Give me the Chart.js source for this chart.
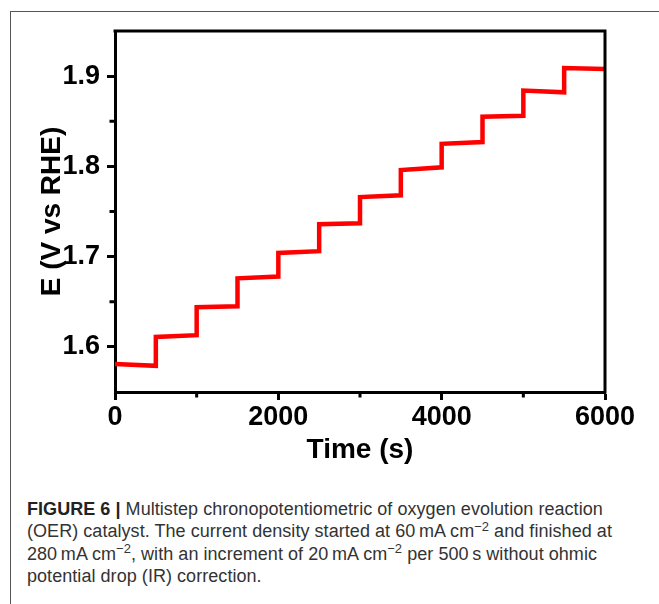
<!DOCTYPE html>
<html>
<head>
<meta charset="utf-8">
<script src="https://cdn.jsdelivr.net/npm/chart.js@4"></script>
<style>
html,body{margin:0;padding:0;background:#fff;width:659px;height:604px;overflow:hidden;}
#frame{position:absolute;left:10px;top:11px;width:660px;height:600px;border-top:1px solid #555;border-left:1px solid #555;box-sizing:border-box;}
#wrap{position:absolute;left:0;top:0;width:659px;height:480px;}
#cap{position:absolute;left:27px;top:497.5px;width:630px;font-family:"Liberation Sans",Arial,sans-serif;font-size:18px;line-height:22.5px;color:#333;white-space:nowrap;letter-spacing:0.05px;}
#cap b{color:#222;}
#cap sup{font-size:0.72em;vertical-align:baseline;position:relative;top:-0.5em;line-height:0;}
</style>
</head>
<body>
<div id="frame"></div>
<div id="wrap"><canvas id="c" width="659" height="480"></canvas></div>
<div id="cap"><b>FIGURE 6 |</b> Multistep chronopotentiometric of oxygen evolution reaction<br>(OER) catalyst. The current density started at 60&#8201;mA cm<sup>−2</sup> and finished at<br>280&#8201;mA cm<sup>−2</sup>, with an increment of 20&#8201;mA cm<sup>−2</sup> per 500&#8201;s without ohmic<br>potential drop (IR) correction.</div>
<script>
// ---- data ----
const stepStartTimes = [0, 500, 1000, 1500, 2000, 2500, 3000, 3500, 4000, 4500, 5000, 5500];
const stepEndTimes   = [500, 1000, 1500, 2000, 2500, 3000, 3500, 4000, 4500, 5000, 5500, 6000];
const stepStartE = [1.581, 1.611, 1.644, 1.676, 1.704, 1.736, 1.766, 1.796, 1.825, 1.855, 1.884, 1.909];
const stepEndE   = [1.579, 1.613, 1.645, 1.678, 1.706, 1.737, 1.768, 1.799, 1.827, 1.856, 1.882, 1.908];
const xMajorTicks = [0, 2000, 4000, 6000];
const xMinorTicks = [1000, 3000, 5000];
const yMajorTicks = [1.6, 1.7, 1.8, 1.9];
const yMinorTicks = [1.65, 1.75, 1.85];
const xTitle = 'Time (s)';
const yTitle = 'E (V vs RHE)';

const points = [];
for (let i = 0; i < stepStartTimes.length; i++) {
  points.push({x: stepStartTimes[i], y: stepStartE[i]});
  points.push({x: stepEndTimes[i], y: stepEndE[i]});
}

const FONT = '"Liberation Sans", Arial, Helvetica, sans-serif';

const framePlugin = {
  id: 'frameAndMinor',
  afterDraw(chart) {
    const {ctx, chartArea: a, scales} = chart;
    ctx.save();
    ctx.strokeStyle = '#000';
    ctx.lineWidth = 3;
    ctx.lineCap = 'square';
    ctx.beginPath();
    ctx.moveTo(a.left, a.top);
    ctx.lineTo(a.right, a.top);
    ctx.lineTo(a.right, a.bottom);
    ctx.stroke();
    ctx.lineCap = 'butt';
    ctx.beginPath();
    xMinorTicks.forEach(v => {
      const px = scales.x.getPixelForValue(v);
      ctx.moveTo(px, a.bottom);
      ctx.lineTo(px, a.bottom + 5.5);
    });
    yMinorTicks.forEach(v => {
      const py = scales.y.getPixelForValue(v);
      ctx.moveTo(a.left, py);
      ctx.lineTo(a.left - 5.5, py);
    });
    ctx.stroke();
    ctx.restore();
  }
};

new Chart(document.getElementById('c'), {
  type: 'line',
  data: {
    datasets: [{
      data: points,
      borderColor: '#ff0000',
      backgroundColor: '#ff0000',
      borderWidth: 4.5,
      pointRadius: 0,
      tension: 0,
      fill: false
    }]
  },
  options: {
    responsive: false,
    animation: false,
    layout: {padding: {left: 0, right: 54, top: 31, bottom: 0}},
    plugins: {legend: {display: false}, tooltip: {enabled: false}},
    scales: {
      x: {
        type: 'linear',
        min: 0, max: 6000,
        afterBuildTicks: s => { s.ticks = xMajorTicks.map(v => ({value: v})); },
        ticks: {
          font: {family: FONT, size: 27, weight: 'bold'},
          color: '#000', padding: 1, maxRotation: 0, autoSkip: false,
          callback: v => String(v)
        },
        grid: {display: true, drawOnChartArea: false, drawTicks: true, tickLength: 8, tickWidth: 3, tickColor: '#000'},
        border: {display: true, color: '#000', width: 3},
        title: {display: true, text: xTitle, color: '#000',
          font: {family: FONT, size: 28, weight: 'bold'}, padding: {top: 0, bottom: 13}},
        afterFit: s => { s.height = 88; }
      },
      y: {
        type: 'linear',
        min: 1.55, max: 1.95,
        afterBuildTicks: s => { s.ticks = yMajorTicks.map(v => ({value: v})); },
        ticks: {
          font: {family: FONT, size: 27, weight: 'bold'},
          color: '#000', padding: 7, autoSkip: false,
          callback: v => Number(v).toFixed(1)
        },
        grid: {display: true, drawOnChartArea: false, drawTicks: true, tickLength: 8, tickWidth: 3, tickColor: '#000'},
        border: {display: true, color: '#000', width: 3},
        title: {display: true, text: yTitle, color: '#000',
          font: {family: FONT, size: 28, weight: 'bold'}, padding: {top: 35, bottom: 0}},
        afterFit: s => { s.width = 115; }
      }
    }
  },
  plugins: [framePlugin]
});
</script>
</body>
</html>
